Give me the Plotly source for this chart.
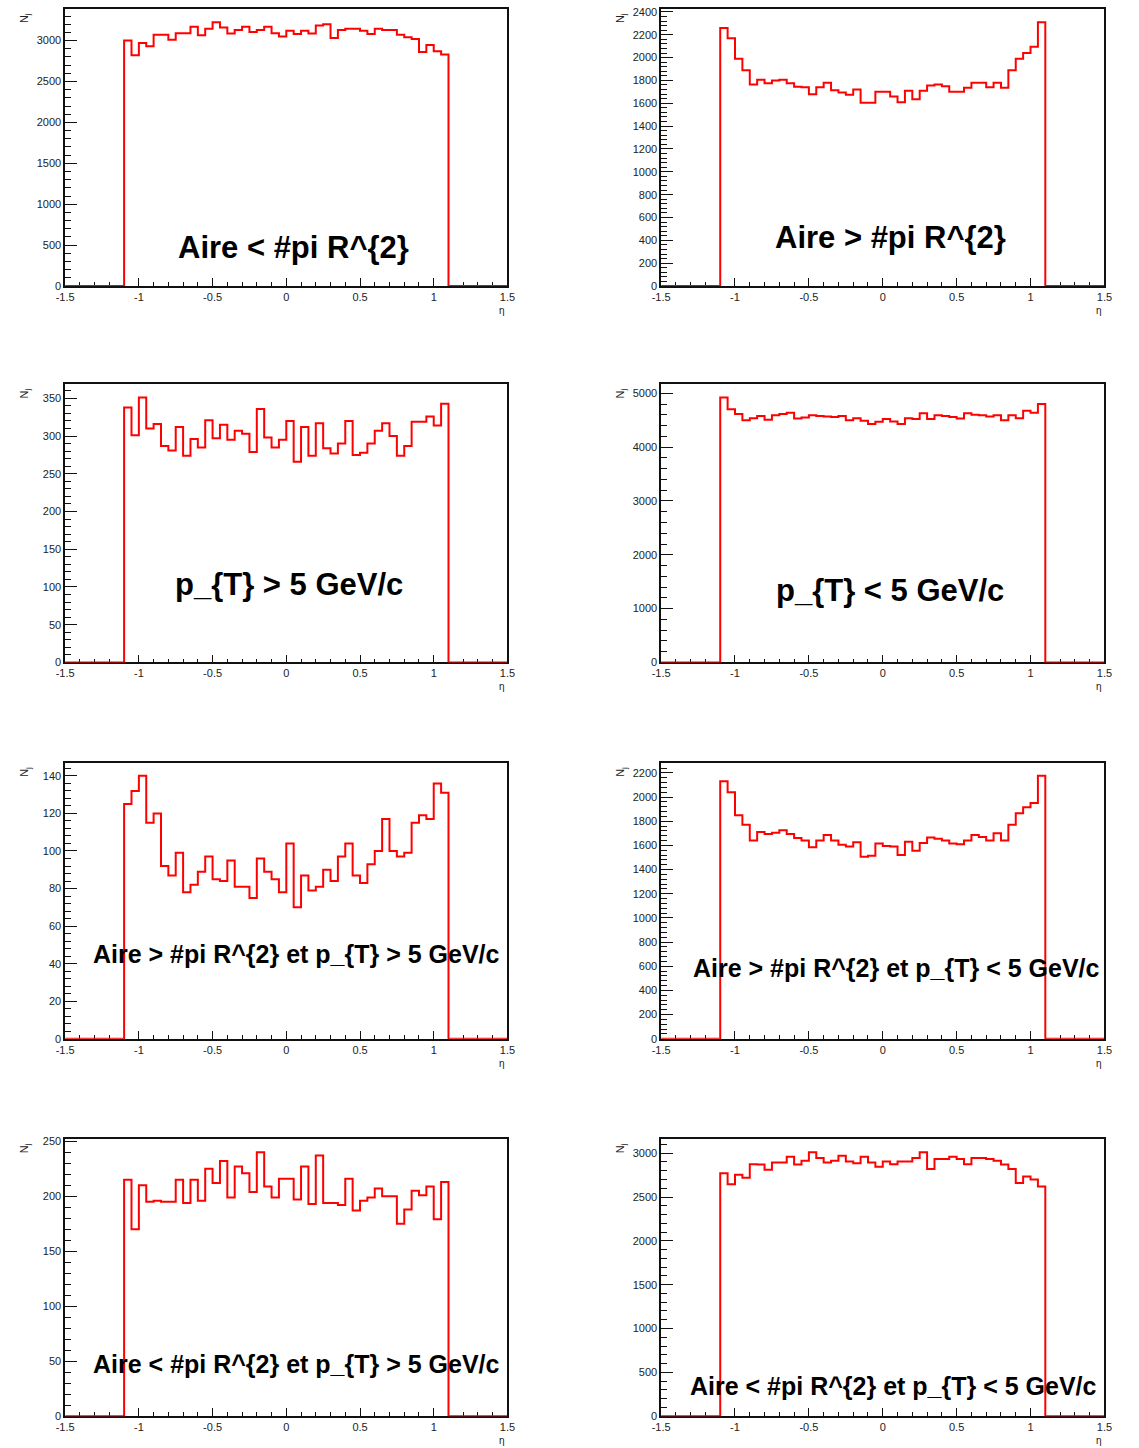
import numpy as np
import plotly.graph_objects as go

# ---------------- data (bin contents, 44 filled bins of width 0.05 from -1.1 to 1.1) -------------
x_low, x_high, n_bins = -1.5, 1.5, 60
n_empty = 8  # empty bins on each side (-1.5..-1.1 and 1.1..1.5)

aire_lt = [3000, 2820, 2970, 2930, 3070, 3070, 3010, 3090, 3090, 3170, 3065, 3145,
           3225, 3160, 3085, 3130, 3170, 3105, 3130, 3170, 3090, 3050, 3120, 3080,
           3120, 3085, 3185, 3200, 3030, 3130, 3145, 3145, 3120, 3080, 3145, 3130,
           3130, 3070, 3040, 3020, 2860, 2945, 2870, 2830]

aire_gt = [2260, 2170, 1990, 1890, 1765, 1805, 1775, 1800, 1805, 1775, 1745, 1740,
           1680, 1740, 1780, 1715, 1695, 1675, 1720, 1605, 1605, 1700, 1700, 1660,
           1610, 1710, 1635, 1710, 1755, 1765, 1750, 1700, 1700, 1735, 1780, 1780,
           1740, 1780, 1735, 1890, 1990, 2040, 2095, 2310]

pt_gt = [338, 301, 351, 310, 316, 287, 281, 312, 274, 296, 285, 321,
         297, 315, 295, 307, 303, 279, 336, 298, 285, 295, 320, 266,
         312, 274, 317, 284, 277, 290, 320, 275, 278, 290, 307, 317,
         300, 274, 287, 319, 319, 326, 314, 343]

pt_lt = [4920, 4705, 4615, 4500, 4535, 4580, 4510, 4590, 4615, 4640, 4530, 4550,
         4590, 4580, 4570, 4560, 4580, 4500, 4535, 4490, 4430, 4470, 4520, 4475,
         4430, 4535, 4520, 4630, 4520, 4590, 4580, 4560, 4530, 4630, 4600, 4590,
         4570, 4590, 4500, 4590, 4535, 4675, 4640, 4800]

aire_gt_pt_gt = [125, 132, 140, 115, 120, 92, 87, 99, 78, 82, 89, 97,
                 85, 84, 95, 81, 81, 75, 96, 89, 85, 78, 104, 70,
                 87, 79, 81, 90, 84, 97, 104, 87, 83, 93, 100, 117,
                 100, 97, 99, 115, 119, 117, 136, 131]

aire_gt_pt_lt = [2130, 2040, 1850, 1770, 1640, 1710, 1695, 1705, 1725, 1695, 1660, 1640,
                 1585, 1640, 1685, 1640, 1605, 1590, 1625, 1505, 1515, 1615, 1595, 1590,
                 1520, 1630, 1555, 1620, 1665, 1655, 1640, 1615, 1610, 1640, 1685, 1670,
                 1640, 1700, 1640, 1770, 1865, 1915, 1950, 2175]

aire_lt_pt_gt = [215, 170, 210, 195, 196, 195, 195, 215, 194, 215, 196, 225,
                 212, 232, 199, 227, 221, 204, 240, 209, 199, 216, 216, 197,
                 227, 193, 237, 194, 194, 192, 216, 187, 196, 199, 207, 200,
                 200, 175, 188, 205, 201, 209, 179, 213]

aire_lt_pt_lt = [2770, 2645, 2755, 2720, 2875, 2870, 2810, 2895, 2895, 2960, 2870, 2915,
                 3010, 2945, 2895, 2915, 2970, 2905, 2885, 2960, 2895, 2845, 2905, 2875,
                 2905, 2905, 2945, 3010, 2820, 2935, 2935, 2960, 2935, 2875, 2945, 2945,
                 2935, 2915, 2870, 2820, 2660, 2735, 2700, 2620]

labels = ["Aire < #pi R^{2}", "Aire > #pi R^{2}",
          "p_{T} > 5 GeV/c", "p_{T} < 5 GeV/c",
          "Aire > #pi R^{2} et p_{T} > 5 GeV/c", "Aire > #pi R^{2} et p_{T} < 5 GeV/c",
          "Aire < #pi R^{2} et p_{T} > 5 GeV/c", "Aire < #pi R^{2} et p_{T} < 5 GeV/c"]

x_tick_vals = [-1.5, -1, -0.5, 0, 0.5, 1, 1.5]
x_tick_text = ["-1.5", "-1", "-0.5", "0", "0.5", "1", "1.5"]
x_title = "η"
y_title = "N<sub>j</sub>"

series = [aire_lt, aire_gt, pt_gt, pt_lt, aire_gt_pt_gt, aire_gt_pt_lt, aire_lt_pt_gt, aire_lt_pt_lt]

# ---------------- layout / style -------------
W, H = 1139, 1448
col_px = [(57, 506), (662, 1112)]    # frame edges in page pixels
row_px = [(5, 284), (383, 663), (764, 1042), (1143, 1422)]
y_major = [500, 200, 50, 1000, 20, 200, 50, 500]
label_pos = [(0.517, 0.14), (0.517, 0.176), (0.505, 0.279), (0.516, 0.258),
             (0.523, 0.306), (0.532, 0.258), (0.523, 0.19), (0.524, 0.108)]
label_size = [31, 31, 31, 31, 25, 25, 25, 25]

FONT = "Liberation Sans, Arial, Helvetica, sans-serif"
edges = np.linspace(x_low, x_high, n_bins + 1)

fig = go.Figure()
for i, vals in enumerate(series):
    r, c = divmod(i, 2)
    k = "" if i == 0 else str(i + 1)
    counts = [0] * n_empty + list(vals) + [0] * n_empty
    ys = counts + [counts[-1]]
    fig.add_trace(go.Scatter(x=edges, y=ys, mode="lines", line_shape="hv",
                             line=dict(color="#ff0000", width=2),
                             xaxis="x" + k, yaxis="y" + k, showlegend=False,
                             hoverinfo="skip"))
    x0, x1 = col_px[c]
    t0, t1 = row_px[r]
    ymax = 1.05 * max(vals)
    common = dict(showline=True, linecolor="#111", linewidth=1.5, mirror=True,
                  ticks="inside", tickcolor="#111", showgrid=False, zeroline=False,
                  tickfont=dict(family=FONT, size=11, color="#222"), layer="below traces")
    fig.layout["xaxis" + k] = dict(domain=[x0 / W, x1 / W], range=[x_low, x_high],
                                   anchor="y" + k, tickvals=x_tick_vals, ticktext=x_tick_text,
                                   ticklen=8, tickwidth=1,
                                   minor=dict(ticks="inside", ticklen=4, dtick=0.1,
                                              tick0=0, tickcolor="#111"),
                                   **common)
    fig.layout["yaxis" + k] = dict(domain=[1 - t1 / H, 1 - t0 / H], range=[0, ymax],
                                   anchor="x" + k, dtick=y_major[i], tick0=0,
                                   ticklen=12, tickwidth=1,
                                   minor=dict(ticks="inside", ticklen=6,
                                              dtick=y_major[i] / 5, tick0=0,
                                              tickcolor="#111"),
                                   **common)
    lx, ly = label_pos[i]
    fig.add_annotation(text="<b>" + labels[i] + "</b>", xref="x" + k + " domain",
                       yref="y" + k + " domain", x=lx, y=ly, showarrow=False,
                       xanchor="center", yanchor="middle",
                       font=dict(family=FONT, size=label_size[i], color="#000"))
    fig.add_annotation(text=x_title, xref="x" + k + " domain", yref="y" + k + " domain",
                       x=1, y=0, xanchor="right", yanchor="top", yshift=-17,
                       showarrow=False, font=dict(family=FONT, size=10, color="#222"))
    fig.add_annotation(text=y_title, xref="x" + k + " domain", yref="y" + k + " domain",
                       x=0, y=1, xanchor="center", yanchor="top", xshift=-40, yshift=-2,
                       textangle=-90, showarrow=False,
                       font=dict(family=FONT, size=11, color="#222"))

fig.update_layout(width=W, height=H, margin=dict(l=0, r=0, t=0, b=0),
                  paper_bgcolor="white", plot_bgcolor="white")

fig.write_html("out.html", include_plotlyjs=True, config={"displayModeBar": False},
               post_script="document.body.style.margin='0';")
